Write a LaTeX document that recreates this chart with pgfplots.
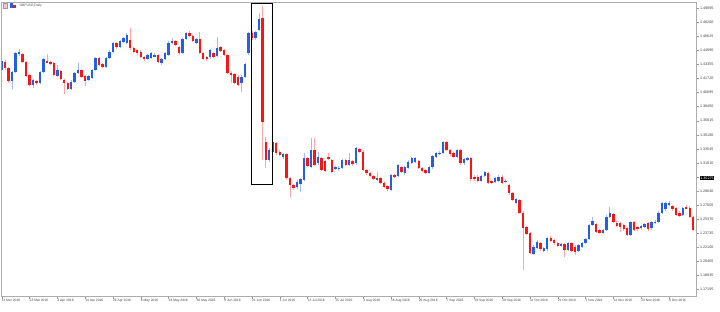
\documentclass[border=0pt]{standalone}
\usepackage{fontspec}
\setmainfont{Liberation Sans}
\usepackage{pgfplots}
\pgfplotsset{compat=1.18}
\usepackage{pgfplotstable}
\definecolor{bullblue}{RGB}{35,95,230}
\definecolor{bearred}{RGB}{250,20,20}
\definecolor{wickblue}{RGB}{165,185,240}
\definecolor{wickred}{RGB}{255,165,165}
\pgfplotstableread{
k o h l c
0 1.4272 1.4395 1.4250 1.4376
1 1.4368 1.4385 1.4270 1.4291
2 1.4299 1.4310 1.4120 1.4144
3 1.4144 1.4265 1.4050 1.4252
4 1.4252 1.4485 1.4240 1.4465
5 1.4454 1.4512 1.4440 1.4485
6 1.4454 1.4470 1.4350 1.4368
7 1.4368 1.4380 1.4190 1.4202
8 1.4213 1.4225 1.4080 1.4097
9 1.4097 1.4170 1.4058 1.4155
10 1.4147 1.4160 1.4100 1.4116
11 1.4116 1.4255 1.4105 1.4244
12 1.4252 1.4410 1.4240 1.4396
13 1.4380 1.4454 1.4350 1.4361
14 1.4368 1.4380 1.4330 1.4349
15 1.4357 1.4370 1.4200 1.4213
16 1.4206 1.4330 1.4195 1.4272
17 1.4260 1.4275 1.4150 1.4163
18 1.4155 1.4170 1.3996 1.4116
19 1.4124 1.4135 1.4035 1.4050
20 1.4050 1.4150 1.4040 1.4136
21 1.4136 1.4245 1.4125 1.4233
22 1.4233 1.4349 1.4220 1.4272
23 1.4272 1.4285 1.4180 1.4194
24 1.4202 1.4215 1.4085 1.4144
25 1.4155 1.4215 1.4140 1.4202
26 1.4175 1.4285 1.4165 1.4272
27 1.4272 1.4420 1.4260 1.4407
28 1.4407 1.4420 1.4315 1.4330
29 1.4337 1.4350 1.4290 1.4303
30 1.4310 1.4420 1.4300 1.4407
31 1.4407 1.4500 1.4395 1.4485
32 1.4485 1.4600 1.4470 1.4582
33 1.4582 1.4595 1.4520 1.4535
34 1.4543 1.4625 1.4530 1.4609
35 1.4601 1.4660 1.4590 1.4640
36 1.4582 1.4700 1.4570 1.4679
37 1.4621 1.4764 1.4510 1.4524
38 1.4524 1.4540 1.4470 1.4485
39 1.4504 1.4515 1.4450 1.4465
40 1.4485 1.4500 1.4410 1.4427
41 1.4427 1.4440 1.4380 1.4396
42 1.4396 1.4460 1.4385 1.4446
43 1.4407 1.4480 1.4395 1.4465
44 1.4434 1.4475 1.4420 1.4446
45 1.4446 1.4460 1.4355 1.4368
46 1.4349 1.4410 1.4335 1.4396
47 1.4396 1.4480 1.4385 1.4465
48 1.4446 1.4605 1.4435 1.4590
49 1.4590 1.4640 1.4575 1.4609
50 1.4609 1.4625 1.4550 1.4562
51 1.4543 1.4555 1.4450 1.4465
52 1.4473 1.4645 1.4460 1.4632
53 1.4628 1.4710 1.4615 1.4698
54 1.4698 1.4729 1.4655 1.4667
55 1.4667 1.4680 1.4595 1.4609
56 1.4590 1.4645 1.4580 1.4628
57 1.4628 1.4718 1.4460 1.4473
58 1.4473 1.4485 1.4385 1.4396
59 1.4419 1.4440 1.4380 1.4396
60 1.4419 1.4520 1.4405 1.4504
61 1.4465 1.4480 1.4415 1.4427
62 1.4434 1.4652 1.4420 1.4531
63 1.4535 1.4550 1.4480 1.4496
64 1.4504 1.4515 1.4430 1.4446
65 1.4446 1.4460 1.4225 1.4240
66 1.4240 1.4255 1.4116 1.4213
67 1.4225 1.4240 1.4110 1.4124
68 1.4194 1.4210 1.4080 1.4097
69 1.4116 1.4210 1.4019 1.4194
70 1.4194 1.4355 1.4180 1.4341
71 1.4465 1.4710 1.4450 1.4698
72 1.4698 1.4720 1.4620 1.4640
73 1.4640 1.4725 1.4625 1.4710
74 1.4737 1.4930 1.4720 1.4861
75 1.4880 1.5016 1.3224 1.3670
76 1.3438 1.3496 1.3127 1.3224
77 1.3224 1.3360 1.3200 1.3341
78 1.3321 1.3534 1.3305 1.3438
79 1.3418 1.3435 1.3285 1.3302
80 1.3321 1.3340 1.3265 1.3282
81 1.3255 1.3310 1.3240 1.3294
82 1.3294 1.3310 1.2995 1.3011
83 1.3011 1.3025 1.2798 1.2933
84 1.2933 1.2950 1.2875 1.2894
85 1.2906 1.2990 1.2890 1.2972
86 1.2945 1.3020 1.2856 1.3003
87 1.2991 1.3302 1.2980 1.3244
88 1.3244 1.3260 1.3145 1.3158
89 1.3147 1.3476 1.3135 1.3341
90 1.3341 1.3476 1.3150 1.3166
91 1.3185 1.3313 1.3170 1.3255
92 1.3244 1.3260 1.3095 1.3108
93 1.3213 1.3225 1.3080 1.3096
94 1.3255 1.3302 1.3220 1.3232
95 1.3224 1.3240 1.3075 1.3088
96 1.3127 1.3160 1.3110 1.3147
97 1.3116 1.3150 1.3100 1.3135
98 1.3135 1.3240 1.3120 1.3224
99 1.3224 1.3240 1.3150 1.3166
100 1.3166 1.3302 1.3150 1.3224
101 1.3213 1.3225 1.3160 1.3174
102 1.3185 1.3375 1.3170 1.3360
103 1.3348 1.3365 1.3310 1.3321
104 1.3321 1.3335 1.3095 1.3108
105 1.3108 1.3120 1.3055 1.3069
106 1.3077 1.3090 1.3030 1.3042
107 1.3042 1.3055 1.2990 1.3003
108 1.2999 1.3088 1.2985 1.3019
109 1.3011 1.3025 1.2945 1.2960
110 1.2960 1.2975 1.2900 1.2914
111 1.2922 1.2935 1.2865 1.2883
112 1.2875 1.3065 1.2860 1.3050
113 1.3050 1.3065 1.3010 1.3022
114 1.3038 1.3180 1.3025 1.3166
115 1.3147 1.3160 1.3075 1.3088
116 1.3069 1.3160 1.3055 1.3147
117 1.3135 1.3220 1.3120 1.3205
118 1.3193 1.3260 1.3180 1.3244
119 1.3205 1.3265 1.3190 1.3244
120 1.3213 1.3230 1.3115 1.3127
121 1.3127 1.3140 1.3085 1.3100
122 1.3108 1.3120 1.3065 1.3077
123 1.3077 1.3160 1.3065 1.3147
124 1.3139 1.3285 1.3125 1.3271
125 1.3263 1.3320 1.3250 1.3302
126 1.3294 1.3325 1.3280 1.3309
127 1.3302 1.3450 1.3290 1.3437
128 1.3437 1.3450 1.3330 1.3341
129 1.3341 1.3355 1.3275 1.3290
130 1.3302 1.3315 1.3250 1.3263
131 1.3263 1.3355 1.3250 1.3341
132 1.3341 1.3355 1.3170 1.3185
133 1.3185 1.3245 1.3170 1.3232
134 1.3224 1.3260 1.3210 1.3244
135 1.3244 1.3260 1.2985 1.2999
136 1.3030 1.3045 1.2985 1.2999
137 1.3030 1.3045 1.2970 1.2984
138 1.2984 1.3050 1.2970 1.3038
139 1.3038 1.3100 1.3025 1.3088
140 1.3077 1.3090 1.2945 1.2960
141 1.2984 1.2995 1.2945 1.2960
142 1.2972 1.3030 1.2960 1.3019
143 1.2984 1.3045 1.2970 1.3030
144 1.3030 1.3045 1.2945 1.2960
145 1.2972 1.3000 1.2960 1.2984
146 1.2933 1.2950 1.2820 1.2836
147 1.2836 1.2850 1.2745 1.2759
148 1.2728 1.2780 1.2715 1.2766
149 1.2759 1.2775 1.2595 1.2611
150 1.2611 1.2625 1.1944 1.2429
151 1.2441 1.2455 1.2350 1.2363
152 1.2371 1.2385 1.2125 1.2138
153 1.2130 1.2230 1.2115 1.2216
154 1.2196 1.2290 1.2185 1.2274
155 1.2254 1.2270 1.2170 1.2185
156 1.2169 1.2210 1.2155 1.2196
157 1.2185 1.2330 1.2170 1.2313
158 1.2320 1.2335 1.2270 1.2285
159 1.2293 1.2305 1.2240 1.2254
160 1.2254 1.2270 1.2210 1.2223
161 1.2223 1.2260 1.2210 1.2247
162 1.2247 1.2260 1.2091 1.2177
163 1.2177 1.2270 1.2165 1.2254
164 1.2254 1.2265 1.2155 1.2169
165 1.2216 1.2230 1.2120 1.2157
166 1.2165 1.2250 1.2150 1.2235
167 1.2216 1.2275 1.2200 1.2262
168 1.2262 1.2320 1.2250 1.2301
169 1.2301 1.2480 1.2290 1.2468
170 1.2468 1.2557 1.2455 1.2518
171 1.2479 1.2495 1.2375 1.2390
172 1.2410 1.2425 1.2365 1.2379
173 1.2371 1.2425 1.2360 1.2410
174 1.2410 1.2580 1.2395 1.2565
175 1.2565 1.2673 1.2550 1.2604
176 1.2596 1.2610 1.2490 1.2506
177 1.2495 1.2510 1.2440 1.2456
178 1.2487 1.2500 1.2390 1.2448
179 1.2468 1.2480 1.2400 1.2417
180 1.2429 1.2445 1.2335 1.2351
181 1.2351 1.2520 1.2340 1.2506
182 1.2506 1.2520 1.2395 1.2410
183 1.2448 1.2460 1.2400 1.2417
184 1.2429 1.2470 1.2415 1.2456
185 1.2448 1.2490 1.2435 1.2475
186 1.2487 1.2500 1.2400 1.2417
187 1.2429 1.2520 1.2415 1.2506
188 1.2495 1.2525 1.2480 1.2506
189 1.2506 1.2625 1.2495 1.2611
190 1.2611 1.2740 1.2600 1.2728
191 1.2650 1.2740 1.2635 1.2728
192 1.2700 1.2745 1.2685 1.2728
193 1.2689 1.2705 1.2635 1.2650
194 1.2662 1.2675 1.2570 1.2584
195 1.2611 1.2625 1.2560 1.2572
196 1.2584 1.2675 1.2570 1.2662
197 1.2681 1.2700 1.2650 1.2662
198 1.2662 1.2690 1.2550 1.2565
199 1.2557 1.2570 1.2395 1.2410
}\candles

\begin{document}
\begin{tikzpicture}[x=1pt,y=1pt]
\useasboundingbox (0,0) rectangle (720,311);
\begin{axis}[
  at={(1.7pt,15pt)}, anchor=south west,
  scale only axis, width=695pt, height=294pt,
  xmin=0, xmax=200, ymin=1.16415, ymax=1.5063,
  clip=true,
  axis line style={draw=gray!65, line width=0.6pt},
  tick style={draw=gray!80, line width=0.4pt},
  tick align=outside, major tick length=2.5pt,
  xtick pos=bottom, ytick pos=right, yticklabel pos=right,
  xtick={0,8,...,192},
  xticklabels={11 Mar 2016,23 Mar 2016,4 Apr 2016,14 Apr 2016,26 Apr 2016,6 May 2016,18 May 2016,30 May 2016,9 Jun 2016,21 Jun 2016,1 Jul 2016,13 Jul 2016,25 Jul 2016,4 Aug 2016,16 Aug 2016,26 Aug 2016,7 Sep 2016,19 Sep 2016,29 Sep 2016,11 Oct 2016,21 Oct 2016,2 Nov 2016,14 Nov 2016,24 Nov 2016,6 Dec 2016},
  xticklabel style={font=\fontsize{3.3}{3.7}\selectfont, text=black!75, anchor=north west, inner sep=0.6pt, xshift=-0.6pt},
  ytick={1.17195,1.18830,1.20465,1.22100,1.23735,1.25370,1.27005,1.28640,1.31910,1.33545,1.35180,1.36815,1.38450,1.40085,1.41720,1.43355,1.44990,1.46625,1.48260,1.49895},
  yticklabels={1.17195,1.18830,1.20465,1.22100,1.23735,1.25370,1.27005,1.28640,1.31910,1.33545,1.35180,1.36815,1.38450,1.40085,1.41720,1.43355,1.44990,1.46625,1.48260,1.49895},
  yticklabel style={font=\fontsize{3.7}{4.1}\selectfont, text=black!75, anchor=west, inner sep=0.6pt},
  extra y ticks={1.30275}, extra y tick labels={},
]
% wicks
\addplot[draw=none, mark=none, forget plot,
  error bars/.cd, y dir=both, y explicit, error mark=none,
  error bar style={draw=wickblue, line width=0.7pt}]
  table[x=k, y expr={(\thisrow{c}>=\thisrow{o}) ? (\thisrow{h}+\thisrow{l})/2 : nan},
        y error expr={(\thisrow{h}-\thisrow{l})/2}] {\candles};
\addplot[draw=none, mark=none, forget plot,
  error bars/.cd, y dir=both, y explicit, error mark=none,
  error bar style={draw=wickred, line width=0.7pt}]
  table[x=k, y expr={(\thisrow{c}<\thisrow{o}) ? (\thisrow{h}+\thisrow{l})/2 : nan},
        y error expr={(\thisrow{h}-\thisrow{l})/2}] {\candles};
% bodies
\addplot[draw=none, mark=none, forget plot,
  error bars/.cd, y dir=both, y explicit, error mark=none,
  error bar style={draw=bullblue, line width=2.4pt}]
  table[x=k, y expr={(\thisrow{c}>=\thisrow{o}) ? (\thisrow{o}+\thisrow{c})/2 : nan},
        y error expr={abs(\thisrow{c}-\thisrow{o})/2}] {\candles};
\addplot[draw=none, mark=none, forget plot,
  error bars/.cd, y dir=both, y explicit, error mark=none,
  error bar style={draw=bearred, line width=2.4pt}]
  table[x=k, y expr={(\thisrow{c}<\thisrow{o}) ? (\thisrow{o}+\thisrow{c})/2 : nan},
        y error expr={abs(\thisrow{c}-\thisrow{o})/2}] {\candles};
% highlight box
\draw[black, line width=1.4pt] (axis cs:71.95,1.5048) rectangle (axis cs:78.0,1.2941);
% title and icons
\fill[pink!60!violet!40, draw=violet!50] (axis description cs:0.0015,0.9786) rectangle (axis description cs:0.0075,0.9950);
\fill[bullblue] (axis description cs:0.0115,0.9786) rectangle (axis description cs:0.0165,0.9950);
\fill[bearred] (axis description cs:0.0165,0.9786) rectangle (axis description cs:0.0205,0.9900);
\node[anchor=west, inner sep=0pt, font=\fontsize{3.3}{3.7}\selectfont, text=black!70] at (axis description cs:0.0255,0.9874) {GBPUSD,Daily};
\end{axis}
\node[anchor=west, fill=black, text=white, inner sep=0.6pt, font=\fontsize{3.7}{4.1}\selectfont] at (699.5,133.2) {1.30275};
\end{tikzpicture}
\end{document}
